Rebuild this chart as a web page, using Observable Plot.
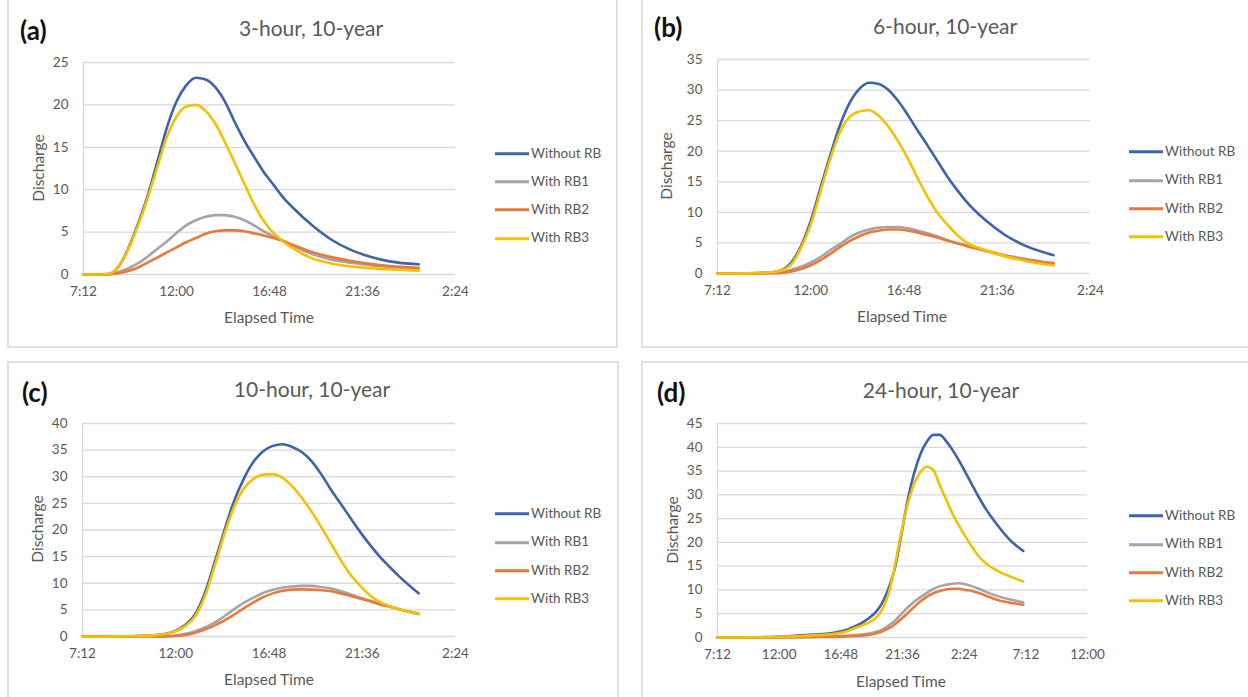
<!DOCTYPE html>
<html>
<head>
<meta charset="utf-8">
<script src="https://cdn.jsdelivr.net/npm/d3@7"></script>
<script src="https://cdn.jsdelivr.net/npm/@observablehq/plot@0.6"></script>
<style>
  html, body { margin: 0; padding: 0; background: #fff; }
  body { width: 1248px; height: 697px; overflow: hidden; position: relative; font-family: Lato, "Liberation Sans", sans-serif; }
  .box { position: absolute; border: 2px solid #e0e0e0; box-sizing: border-box; }
  .t { position: absolute; white-space: nowrap; transform: translate(-50%, -50%); color: #595959; line-height: 1; }
  .lab { position: absolute; white-space: nowrap; transform: translate(0, -50%); color: #111; font-weight: bold; font-size: 26px; line-height: 1; }
  .title { font-size: 21px; }
  .axl { font-size: 15.5px; }
  .rot { transform: translate(-50%, -50%) rotate(-90deg); }
  .leg { position: absolute; display: flex; align-items: center; transform: translate(0, -50%); font-size: 13.5px; color: #595959; white-space: nowrap; line-height: 1; }
  .leg span.sw { display: inline-block; width: 34px; height: 3px; margin-right: 2px; }
  svg { position: absolute; overflow: visible; }
</style>
</head>
<body>
<script>
// ---------- data ----------
const seriesNames = ["Without RB", "With RB1", "With RB2", "With RB3"];
const seriesColors = ["#3d63ad", "#a5a5a5", "#e8793a", "#f5c000"];

// clock hours (7.2 = 7:12, 24.5 = 0:30 next day)
const xTicksABC = [7.2, 12, 16.8, 21.6, 26.4];
const xTicksD = [7.2, 12, 16.8, 21.6, 26.4, 31.2, 36];

// (a) 3-hour, 10-year
const timeA = [7.2, 8.0, 8.5, 9.0, 9.5, 10.0, 10.5, 11.0, 11.5, 12.0, 12.5, 13.0, 13.5, 14.0, 14.5, 15.0, 15.5, 16.0, 16.5, 17.0, 17.5, 18.0, 19.0, 20.0, 21.0, 22.0, 23.0, 24.5];
const withoutA = [0, 0, 0.05, 0.9, 3.0, 5.9, 9.2, 13.2, 17.3, 20.4, 22.3, 23.2, 23.0, 22.1, 20.4, 18.0, 15.8, 13.9, 12.1, 10.6, 9.1, 7.9, 5.8, 4.1, 2.9, 2.1, 1.55, 1.2];
const rb1A = [0, 0, 0.05, 0.3, 0.7, 1.3, 2.1, 3.0, 3.9, 4.9, 5.8, 6.4, 6.8, 7.0, 7.0, 6.8, 6.4, 5.8, 5.1, 4.5, 4.0, 3.4, 2.4, 1.75, 1.4, 1.1, 0.9, 0.7];
const rb2A = [0, 0, 0.02, 0.15, 0.4, 0.8, 1.4, 2.0, 2.6, 3.2, 3.8, 4.3, 4.8, 5.1, 5.2, 5.2, 5.1, 4.85, 4.6, 4.3, 3.95, 3.5, 2.65, 2.05, 1.6, 1.25, 1.0, 0.8];
const rb3A = [0, 0, 0.05, 0.9, 2.9, 5.7, 8.9, 12.6, 16.2, 18.6, 19.8, 20.0, 19.3, 17.8, 15.6, 13.2, 10.7, 8.3, 6.3, 4.9, 3.9, 3.1, 1.9, 1.3, 0.95, 0.75, 0.6, 0.45];

// (b) 6-hour, 10-year
const timeB = [7.2, 8.5, 9.5, 10.0, 10.5, 11.0, 11.5, 12.0, 12.5, 13.0, 13.5, 14.0, 14.5, 15.0, 15.5, 16.0, 16.5, 17.0, 17.5, 18.0, 18.5, 19.0, 19.5, 20.0, 21.0, 22.0, 23.0, 24.5];
const withoutB = [0, 0.02, 0.1, 0.2, 0.55, 1.8, 4.5, 8.6, 14.0, 19.3, 24.2, 27.9, 30.2, 31.2, 31.0, 30.0, 28.2, 25.9, 23.4, 21.0, 18.5, 16.0, 13.8, 11.8, 8.7, 6.3, 4.6, 3.0];
const rb1B = [0, 0, 0.02, 0.1, 0.2, 0.6, 1.1, 1.8, 2.7, 3.8, 4.8, 5.9, 6.7, 7.2, 7.5, 7.6, 7.6, 7.4, 7.0, 6.6, 6.1, 5.5, 5.0, 4.6, 3.8, 3.0, 2.4, 1.6];
const rb2B = [0, 0, 0.01, 0.05, 0.1, 0.35, 0.75, 1.35, 2.2, 3.2, 4.3, 5.3, 6.1, 6.7, 7.0, 7.2, 7.2, 7.0, 6.7, 6.3, 5.9, 5.4, 5.0, 4.5, 3.7, 2.9, 2.3, 1.7];
const rb3B = [0, 0.02, 0.1, 0.2, 0.5, 1.5, 4.2, 8.0, 13.4, 18.7, 23.1, 25.6, 26.5, 26.7, 25.8, 24.0, 21.6, 18.8, 15.6, 12.6, 10.0, 8.1, 6.4, 5.1, 3.8, 2.8, 2.1, 1.3];

// (c) 10-hour, 10-year
const timeC = [7.2, 9.0, 10.0, 11.0, 11.5, 12.0, 12.5, 13.0, 13.5, 14.0, 14.5, 15.0, 15.5, 16.0, 16.5, 17.0, 17.5, 18.0, 18.5, 19.0, 19.5, 20.0, 20.5, 21.0, 21.5, 22.0, 22.5, 23.0, 23.5, 24.5];
const withoutC = [0, 0.02, 0.1, 0.25, 0.5, 1.1, 2.2, 4.2, 8.2, 13.9, 19.9, 25.4, 29.6, 32.8, 34.8, 35.8, 36.1, 35.6, 34.6, 32.9, 30.4, 27.5, 24.9, 22.2, 19.6, 17.2, 15.0, 13.1, 11.3, 8.1];
const rb1C = [0, 0, 0, 0.02, 0.08, 0.2, 0.5, 1.0, 1.7, 2.6, 3.8, 5.1, 6.3, 7.3, 8.2, 8.8, 9.2, 9.4, 9.5, 9.5, 9.3, 9.0, 8.5, 7.9, 7.3, 6.7, 6.2, 5.7, 5.1, 4.2];
const rb2C = [0, 0, 0, 0.01, 0.03, 0.08, 0.3, 0.7, 1.3, 2.1, 3.0, 4.1, 5.3, 6.4, 7.4, 8.1, 8.6, 8.8, 8.85, 8.8, 8.7, 8.5, 8.1, 7.6, 7.1, 6.6, 6.0, 5.6, 5.1, 4.3];
const rb3C = [0, 0.02, 0.1, 0.25, 0.5, 1.0, 2.0, 3.8, 7.5, 13.2, 19.2, 24.3, 27.8, 29.6, 30.4, 30.5, 29.8, 28.2, 26.0, 23.4, 20.5, 17.4, 14.3, 11.6, 9.5, 7.7, 6.5, 5.7, 5.1, 4.3];

// (d) 24-hour, 10-year
const timeD = [7.2, 10, 12, 14, 15, 16, 17, 18, 18.5, 19, 19.5, 20, 20.5, 21, 21.5, 22, 22.5, 23, 23.5, 24, 24.5, 25, 25.5, 26, 26.5, 27, 27.5, 28, 29, 30, 31];
const withoutD = [0, 0.05, 0.15, 0.5, 0.65, 0.9, 1.4, 2.5, 3.2, 4.1, 5.3, 7.2, 10.2, 14.5, 21.5, 28.8, 34.5, 38.6, 41.2, 42.6, 42.6, 41.3, 39.4, 37.2, 34.7, 32.2, 29.7, 27.4, 23.6, 20.4, 18.2];
const rb1D = [0, 0, 0.05, 0.1, 0.15, 0.25, 0.35, 0.55, 0.65, 0.85, 1.15, 1.65, 2.5, 3.5, 4.9, 6.3, 7.5, 8.5, 9.4, 10.2, 10.8, 11.1, 11.3, 11.4, 11.2, 10.8, 10.3, 9.7, 8.7, 8.0, 7.4];
const rb2D = [0, 0, 0.03, 0.06, 0.1, 0.13, 0.18, 0.3, 0.4, 0.55, 0.85, 1.25, 1.9, 2.75, 3.9, 5.1, 6.4, 7.6, 8.6, 9.3, 9.8, 10.1, 10.25, 10.25, 10.0, 9.8, 9.4, 8.9, 7.9, 7.3, 6.9];
const rb3D = [0, 0.04, 0.1, 0.35, 0.5, 0.7, 1.1, 2.1, 2.6, 3.2, 4.1, 5.8, 9.0, 15.0, 22.0, 28.0, 32.3, 34.8, 35.9, 35.2, 32.0, 29.0, 26.0, 23.5, 21.2, 19.1, 17.2, 15.8, 14.0, 12.8, 11.8];

const panelLabels = ["(a)", "(b)", "(c)", "(d)"];
const panelTitles = ["3-hour, 10-year", "6-hour, 10-year", "10-hour, 10-year", "24-hour, 10-year"];
const yMax = [25, 35, 40, 45];

// ---------- layout ----------
const panels = [
  { time: timeA, vals: [withoutA, rb1A, rb2A, rb3A], ticks: xTicksABC, box: [7, -2, 611, 350], plot: [83, 62, 372, 212],
    lab: [20, 30], title: [311, 27], xl: [269, 318], yl: [39, 168], leg: [495, 153.5] },
  { time: timeB, vals: [withoutB, rb1B, rb2B, rb3B], ticks: xTicksABC, box: [641, -2, 620, 350], plot: [717, 59, 373, 214],
    lab: [654, 27], title: [945, 25], xl: [902, 317], yl: [667, 166], leg: [1129, 152] },
  { time: timeC, vals: [withoutC, rb1C, rb2C, rb3C], ticks: xTicksABC, box: [7, 361, 612, 345], plot: [82, 423, 373, 213],
    lab: [22, 392], title: [312, 388], xl: [269, 680], yl: [38, 529], leg: [495, 514] },
  { time: timeD, vals: [withoutD, rb1D, rb2D, rb3D], ticks: xTicksD, box: [641, 361, 620, 345], plot: [717, 423, 370, 214],
    lab: [657, 392], title: [941, 389], xl: [901, 682], yl: [673, 530], leg: [1129, 516] }
];

function fmtTime(t) {
  let h = ((t % 24) + 24) % 24;
  let hh = Math.floor(h + 1e-9);
  let mm = Math.round((h - hh) * 60);
  if (mm === 60) { hh += 1; mm = 0; }
  return hh + ":" + String(mm).padStart(2, "0");
}

function el(cls, html, x, y, extra) {
  const d = document.createElement("div");
  d.className = cls;
  d.innerHTML = html;
  d.style.left = x + "px";
  d.style.top = y + "px";
  if (extra) Object.assign(d.style, extra);
  document.body.appendChild(d);
  return d;
}

const ML = 50, MT = 12, MR = 20, MB = 32;

panels.forEach((p, k) => {
  // border box
  const b = document.createElement("div");
  b.className = "box";
  Object.assign(b.style, { left: p.box[0] + "px", top: p.box[1] + "px", width: p.box[2] + "px", height: p.box[3] + "px" });
  document.body.appendChild(b);

  const rows = [];
  seriesNames.forEach((s, i) => p.vals[i].forEach((v, j) => rows.push({ t: p.time[j], v, s })));
  const yTicks = d3.range(0, yMax[k] + 0.001, 5);
  const xDom = [p.ticks[0], p.ticks[p.ticks.length - 1]];

  const chart = Plot.plot({
    width: p.plot[2] + ML + MR,
    height: p.plot[3] + MT + MB,
    marginLeft: ML, marginTop: MT, marginRight: MR, marginBottom: MB,
    style: { fontFamily: "Lato, 'Liberation Sans', sans-serif", fontSize: "13.5px", color: "#595959", background: "transparent", overflow: "visible" },
    x: { domain: xDom, label: null },
    y: { domain: [0, yMax[k]], label: null },
    color: { domain: seriesNames, range: seriesColors },
    marks: [
      Plot.gridY(yTicks, { stroke: "#d9d9d9", strokeOpacity: 1, strokeWidth: 1.3 }),
      Plot.ruleX([xDom[0]], { stroke: "#d9d9d9", strokeWidth: 1.3 }),
      Plot.axisX(p.ticks, { tickSize: 0, tickPadding: 12, tickFormat: fmtTime, label: null, fill: "#595959" }),
      Plot.axisY(yTicks, { tickSize: 0, tickPadding: 15, label: null, fill: "#595959" }),
      Plot.line(rows, { x: "t", y: "v", z: "s", stroke: "s", strokeWidth: 2.6, curve: "monotone-x" })
    ]
  });
  chart.style.left = (p.plot[0] - ML) + "px";
  chart.style.top = (p.plot[1] - MT) + "px";
  document.body.appendChild(chart);

  el("lab", panelLabels[k], p.lab[0], p.lab[1]);
  el("t title", panelTitles[k], p.title[0], p.title[1]);
  el("t axl", "Elapsed Time", p.xl[0], p.xl[1]);
  el("t axl rot", "Discharge", p.yl[0], p.yl[1]);
  seriesNames.forEach((s, i) => {
    el("leg", `<span class="sw" style="background:${seriesColors[i]}"></span>${s}`, p.leg[0], p.leg[1] + i * 28.3);
  });
});
</script>
</body>
</html>
